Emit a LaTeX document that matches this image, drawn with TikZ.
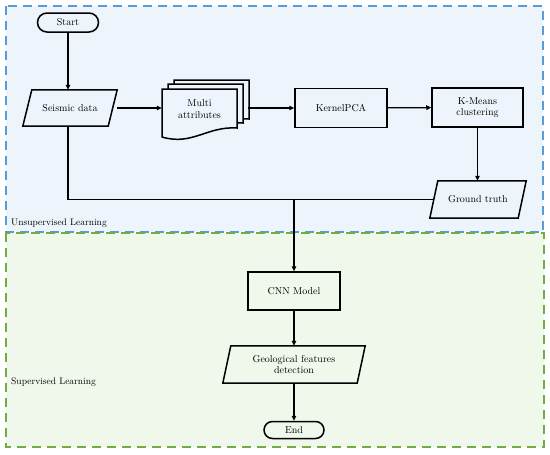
\documentclass[tikz,border=0pt]{standalone}
\usetikzlibrary{arrows.meta,calc}
\definecolor{bluebd}{RGB}{91,155,213}
\definecolor{bluebg}{RGB}{237,244,251}
\definecolor{greenbd}{RGB}{112,173,71}
\definecolor{greenbg}{RGB}{240,247,235}
\newcommand\drawpara[2]{\draw[shapeline] ($(#1.north west)+(#2,0)$) -- (#1.north east) -- ($(#1.south east)+(-#2,0)$) -- (#1.south west) -- cycle;}
\begin{document}
\begin{tikzpicture}[x=1pt,y=-1pt,
  every node/.style={font=\fontsize{10}{11.5}\selectfont, align=center, inner sep=0pt},
  shapeline/.style={draw=black, line width=1.5pt, line join=miter},
  procbox/.style={shapeline, minimum width=#1, minimum height=38pt},
  termbox/.style={shapeline, rounded corners=8.5pt, minimum height=17pt},
  paranode/.style={minimum height=37pt},
  conn/.style={draw=black, line width=1.3pt, -{Triangle[length=5pt,width=4.5pt]}},
  plainconn/.style={draw=black, line width=1.3pt},
  regionbox/.style={line width=1.5pt, dash pattern=on 9pt off 6pt},
  regionlabel/.style={anchor=west, font=\fontsize{9.5}{11}\selectfont}]
\useasboundingbox (0,0) rectangle (550,455);
\fill[white] (0,0) rectangle (550,455);
% regions
\draw[regionbox, draw=bluebd, fill=bluebg] (6,6) rectangle (543,232);
\draw[regionbox, draw=greenbd, fill=greenbg] (6,233) rectangle (544,447);
\node[regionlabel] (ul) at (11,223) {Unsupervised Learning};
\node[regionlabel] (sl) at (11,382) {Supervised Learning};

% nodes
\node[termbox, minimum width=61pt, rounded corners=9.5pt, minimum height=19pt] (start) at (68,22.5) {Start};
\node[paranode, minimum width=94pt, minimum height=36pt] (seis) at (70,108) {Seismic data};
\drawpara{seis}{9}
% multi attributes (stack of documents)
\foreach \dx/\dy in {12/-9, 6/-5, 0/0}{
  \draw[shapeline, fill=bluebg] (162+\dx,137+\dy) -- (162+\dx,89+\dy) -- (237+\dx,89+\dy) -- (237+\dx,128+\dy)
     .. controls (207+\dx,126+\dy) and (192+\dx,146+\dy) .. (162+\dx,137+\dy) -- cycle;
}
\node[minimum width=86pt, minimum height=58pt] (multi) at (205,108) {};
\node (multitext) at (199.5,109) {Multi\\attributes};
\node[procbox=92pt, minimum height=39pt] (kpca) at (341,108) {KernelPCA};
\node[procbox=91pt, minimum height=39pt] (kmeans) at (477.5,107.5) {K-Means\\clustering};
\node[paranode, minimum width=96pt] (gt) at (478,199.5) {Ground truth};
\drawpara{gt}{8}
\node[procbox=92pt] (cnn) at (294,291) {CNN Model};
\node[paranode, minimum width=142pt] (geo) at (294,364.5) {Geological features\\detection};
\drawpara{geo}{8}
\node[termbox, minimum width=60pt] (end) at (294,430) {End};

% connectors
\coordinate (gtin) at ($(gt.west)+(4,0)$);
\coordinate (join) at (cnn.north |- gtin);
\coordinate (seisout) at (start.south |- seis.south);
\draw[conn] (start.south) -- (start.south |- seis.north);
\draw[conn] (seis.east) -- (multi.west);
\draw[conn] (multi.east) -- (kpca.west);
\draw[conn] (kpca) -- (kmeans);
\draw[conn] (kmeans.south) -- (kmeans.south |- gt.north);
\draw[plainconn] (seisout) |- (join);
\draw[plainconn] (gtin) -- (join);
\draw[conn] (join) -- (cnn.north);
\draw[conn] (cnn) -- (geo);
\draw[conn] (geo) -- (end);
\end{tikzpicture}
\end{document}
